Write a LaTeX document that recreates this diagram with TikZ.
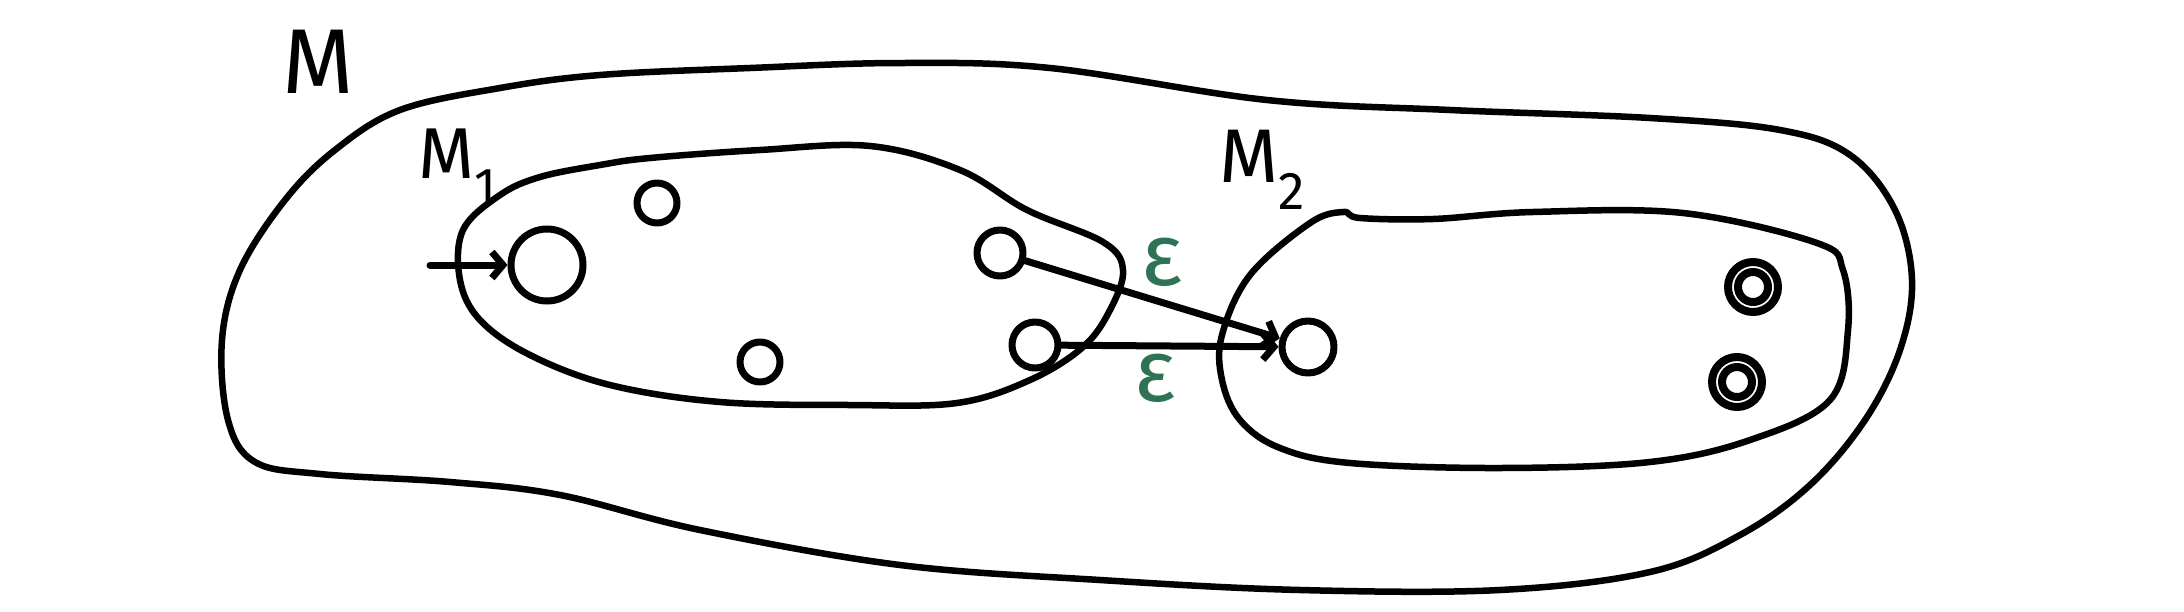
\documentclass[tikz,border=0pt]{standalone}
\usepackage{fontspec}
\setsansfont{Fira Sans}
\usetikzlibrary{arrows.meta}
\definecolor{epsgreen}{RGB}{47,115,85}
\begin{document}
\begin{tikzpicture}[x=1pt,y=-1pt,line cap=round,line join=round,
  blob/.style={draw,line width=6.5pt},
  stateC/.style={circle,draw,line width=7pt,inner sep=0pt,minimum size=#1},
  stateC/.default=46pt,
  accept/.style={circle,draw,line width=8pt,inner sep=0pt,minimum size=50pt,
    append after command={\pgfextra{\draw[line width=8pt] (\tikzlastnode.center) circle[radius=15pt];}}},
  trans/.style={line width=7pt,-{Straight Barb[length=11pt,width=26pt,line width=7pt]}},
  lbl/.style={font=\sffamily\fontsize{#1}{#1}\selectfont,inner sep=0pt},
  eps/.style={text=epsgreen,font=\sffamily\fontsize{88}{88}\selectfont,inner sep=0pt}]
\useasboundingbox (0,0) rectangle (2184,611);

% outer machine M
\draw[blob] plot[smooth cycle,tension=0.6] coordinates {
 (335,150) (400,110) (500,88) (600,75) (750,68) (900,63) (1050,68) (1267,100)
 (1450,110) (1650,118) (1780,130) (1850,155) (1895,210) (1912,280) (1900,350)
 (1865,420) (1810,485) (1740,535) (1650,572) (1500,590) (1300,590) (1100,580)
 (900,565) (700,530) (560,495) (450,482) (320,474) (255,462) (228,420) (222,340)
 (240,270) (285,200)};

% M1 blob
\draw[blob] plot[smooth cycle,tension=0.6] coordinates {
 (463,230) (500,195) (540,177) (600,165) (650,158) (760,150) (870,146) (960,170)
 (1027,210) (1103,242) (1123,270) (1110,310) (1083,347) (1030,380) (957,403)
 (850,405) (720,402) (610,385) (530,355) (480,320) (460,280)};

% M2 blob
\draw[blob] plot[smooth cycle,tension=0.6] coordinates {
 (1310,223) (1343,212) (1360,218) (1433,219) (1533,212) (1683,213) (1817,243)
 (1843,270) (1848,330) (1830,400) (1750,440) (1650,462) (1500,468) (1350,463)
 (1280,448) (1240,420) (1222,380) (1222,335) (1250,275)};

% labels
\node[lbl=92] (lM) at (318,62) {M};
\node[lbl=72] (lM1) at (458,166) {M\textsubscript{1}};
\node[lbl=76] (lM2) at (1262,170) {M\textsubscript{2}};

% M1 states
\coordinate (s1) at (430,265);
\node[stateC=72pt] (q1) at (547,265) {};
\node[stateC=40pt] (q3) at (657,203) {};
\node[stateC=40pt] (q4) at (760,362) {};
\node[stateC] (qa) at (1000,253) {};
\node[stateC] (qb) at (1035,345) {};

% M2 states
\node[stateC=52pt] (q2) at (1308,347) {};
\node[accept] (f1) at (1753,287) {};
\node[accept] (f2) at (1737,382) {};

% transitions
\draw[trans] (s1) -- (q1);
\draw[trans] (qa) -- (q2);
\draw[trans] (qb) -- (q2);

\node[eps] (e1) at (1162,262) {ε};
\node[eps] (e2) at (1155,378) {ε};
\end{tikzpicture}
\end{document}
